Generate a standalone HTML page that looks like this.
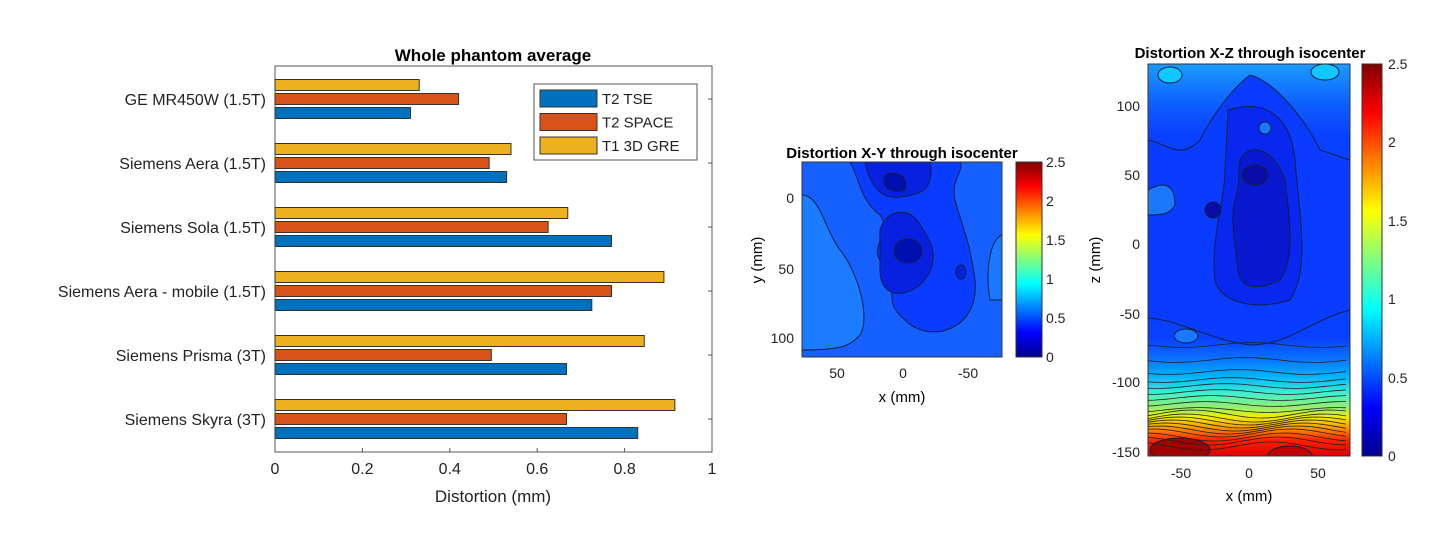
<!DOCTYPE html>
<html><head><meta charset="utf-8"><style>
body{margin:0;background:#fff;width:1436px;height:536px;overflow:hidden;font-family:"Liberation Sans",Arial,sans-serif}
svg text{font-family:"Liberation Sans",Arial,sans-serif}
</style></head><body>
<svg id="fig" width="1436" height="536" viewBox="0 0 1436 536">
<defs>
<linearGradient id="jet" x1="0" y1="1" x2="0" y2="0">
<stop offset="0" stop-color="#00008f"/><stop offset="0.125" stop-color="#0000ff"/><stop offset="0.375" stop-color="#00ffff"/><stop offset="0.625" stop-color="#ffff00"/><stop offset="0.875" stop-color="#ff0000"/><stop offset="1" stop-color="#800000"/>
</linearGradient>
<linearGradient id="xzbg" x1="0" y1="0" x2="0" y2="1">
<stop offset="0" stop-color="#1a9cff"/><stop offset="0.1" stop-color="#0f60ff"/><stop offset="0.18" stop-color="#0a40ff"/><stop offset="0.7" stop-color="#0a40ff"/><stop offset="0.75" stop-color="#0a70ff"/><stop offset="0.8" stop-color="#00b8ff"/><stop offset="0.84" stop-color="#40f0d0"/><stop offset="0.88" stop-color="#a0f060"/><stop offset="0.9" stop-color="#f0f000"/><stop offset="0.93" stop-color="#ff9000"/><stop offset="0.96" stop-color="#ff2000"/><stop offset="1" stop-color="#e00000"/>
</linearGradient>
<filter id="bl"><feGaussianBlur stdDeviation="4"/></filter>
<clipPath id="cxy"><rect x="802" y="162" width="200" height="195"/></clipPath>
<clipPath id="cxz"><rect x="1148" y="64" width="202" height="392"/></clipPath>
</defs>
<g id="bars"></g>

<!-- X-Y contour -->
<g>
<text x="902" y="158" font-size="15" font-weight="bold" text-anchor="middle">Distortion X-Y through isocenter</text>
<g clip-path="url(#cxy)">
<rect x="802" y="162" width="200" height="195" fill="#1560ff"/>
<path d="M850,162 C860,180 860,200 880,215 C895,235 860,250 890,270 C900,285 880,300 905,320 C930,345 980,330 975,280 C970,240 960,220 955,200 C950,180 965,170 960,162Z" fill="#0a3cff" stroke="#102040" stroke-width="1"/>
<path d="M865,162 C870,185 880,200 900,197 C920,195 935,190 930,162Z" fill="#0820e0" stroke="#102040"/>
<path d="M885,175 C895,170 910,175 905,190 C890,195 880,185 885,175Z" fill="#0010b0" stroke="#102040"/>
<path d="M880,230 C885,210 910,205 920,225 C935,245 940,265 920,285 C900,300 880,295 880,270Z" fill="#0820e0" stroke="#102040"/>
<ellipse cx="908" cy="251" rx="14" ry="12" fill="#0010b0" stroke="#102040"/>
<ellipse cx="961" cy="272" rx="5" ry="7" fill="#0820e0" stroke="#102040"/>
<path d="M1002,235 C990,240 985,270 990,300 L1002,300Z" fill="#1a78ff" stroke="#102040"/>
<path d="M802,195 C820,195 825,230 840,250 C860,275 870,320 860,335 C850,345 845,350 802,350Z" fill="#1a7cff" stroke="#102040"/>
</g>
<rect x="802" y="162" width="200" height="195" fill="none" stroke="#333"/>
<g font-size="14" fill="#222">
<text x="837" y="378" text-anchor="middle">50</text><text x="903" y="378" text-anchor="middle">0</text><text x="968" y="378" text-anchor="middle">-50</text>
<text x="794" y="203" text-anchor="end">0</text><text x="794" y="274" text-anchor="end">50</text><text x="794" y="343" text-anchor="end">100</text>
</g>
<text x="902" y="402" font-size="15" text-anchor="middle">x (mm)</text>
<text transform="translate(762,260) rotate(-90)" font-size="15" text-anchor="middle">y (mm)</text>
<rect x="1016" y="162" width="26" height="195" fill="url(#jet)" stroke="#333"/>
<g font-size="14" fill="#222">
<text x="1046" y="167">2.5</text><text x="1046" y="206">2</text><text x="1046" y="245">1.5</text><text x="1046" y="284">1</text><text x="1046" y="323">0.5</text><text x="1046" y="362">0</text>
</g>
</g>

<!-- X-Z contour -->
<g>
<text x="1250" y="58" font-size="15" font-weight="bold" text-anchor="middle">Distortion X-Z through isocenter</text>
<g clip-path="url(#cxz)">
<rect x="1148" y="64" width="202" height="392" fill="url(#xzbg)"/>
<path d="M1148,140 C1170,145 1180,160 1200,140 C1210,120 1230,90 1250,75 C1270,80 1300,110 1320,150 L1350,160 L1350,310 C1310,320 1290,345 1250,345 C1210,340 1180,320 1148,318Z" fill="#0a3cff" stroke="#102040"/>
<path d="M1148,190 C1165,180 1175,185 1175,205 C1170,215 1160,215 1148,215Z" fill="#1a78ff" stroke="#102040"/>
<path d="M1228,110 C1260,100 1290,110 1295,160 C1300,220 1310,270 1290,300 C1260,310 1220,305 1215,280 C1210,240 1225,200 1225,170Z" fill="#0828f0" stroke="#102040"/>
<path d="M1240,160 C1250,140 1275,150 1285,180 C1290,220 1295,260 1280,280 C1260,290 1240,290 1238,270 C1235,240 1230,220 1235,200 C1240,185 1238,175 1240,160Z" fill="#0a18d0" stroke="#102040"/>
<ellipse cx="1255" cy="175" rx="13" ry="10" fill="#0a0ca8" stroke="#102040"/>
<ellipse cx="1213" cy="210" rx="8" ry="8" fill="#0a0ca8" stroke="#102040"/>
<ellipse cx="1265" cy="128" rx="6" ry="6" fill="#1a78ff" stroke="#102040"/>
<ellipse cx="1170" cy="75" rx="12" ry="8" fill="#10c8ff" stroke="#102040"/>
<ellipse cx="1325" cy="72" rx="14" ry="8" fill="#10c8ff" stroke="#102040"/>
<ellipse cx="1186" cy="336" rx="12" ry="7" fill="#1a78ff" stroke="#102040"/>
<ellipse cx="1180" cy="450" rx="30" ry="12" fill="#a00000" stroke="#102040"/>
<ellipse cx="1290" cy="456" rx="22" ry="10" fill="#c00000" stroke="#102040"/>
</g>
<g id="xzlines" clip-path="url(#cxz)" fill="none" stroke="#222" stroke-width="0.8"></g>
<rect x="1148" y="64" width="202" height="392" fill="none" stroke="#333"/>
<g font-size="14" fill="#222">
<text x="1181" y="478" text-anchor="middle">-50</text><text x="1249" y="478" text-anchor="middle">0</text><text x="1318" y="478" text-anchor="middle">50</text>
<text x="1140" y="111" text-anchor="end">100</text><text x="1140" y="180" text-anchor="end">50</text><text x="1140" y="249" text-anchor="end">0</text><text x="1140" y="319" text-anchor="end">-50</text><text x="1140" y="387" text-anchor="end">-100</text><text x="1140" y="457" text-anchor="end">-150</text>
</g>
<text x="1249" y="501" font-size="15" text-anchor="middle">x (mm)</text>
<text transform="translate(1100,260) rotate(-90)" font-size="15" text-anchor="middle">z (mm)</text>
<rect x="1362" y="64" width="20" height="392" fill="url(#jet)" stroke="#333"/>
<g font-size="14" fill="#222">
<text x="1388" y="69">2.5</text><text x="1388" y="147">2</text><text x="1388" y="226">1.5</text><text x="1388" y="304">1</text><text x="1388" y="383">0.5</text><text x="1388" y="461">0</text>
</g>
</g>
</svg>
<script>
const categories=["GE MR450W (1.5T)","Siemens Aera (1.5T)","Siemens Sola (1.5T)","Siemens Aera - mobile (1.5T)","Siemens Prisma (3T)","Siemens Skyra (3T)"];
const t2tse=[0.31,0.53,0.77,0.725,0.667,0.83];
const t2space=[0.42,0.49,0.625,0.77,0.495,0.667];
const t1gre=[0.33,0.54,0.67,0.89,0.845,0.915];
const xticks=[0,0.2,0.4,0.6,0.8,1];
const seriesNames=["T2 TSE","T2 SPACE","T1 3D GRE"];
const NS="http://www.w3.org/2000/svg";
const g=document.getElementById('bars');
const L=275,R=712,T=66,B=452;
const xs=v=>L+v*(R-L);
const yc=i=>T+33+i*64;
function mk(tag,a,parent){const e=document.createElementNS(NS,tag);for(const k in a)e.setAttribute(k,a[k]);(parent||g).appendChild(e);return e;}
const ttl=mk('text',{x:493,y:61,'font-size':17,'font-weight':'bold','text-anchor':'middle'});ttl.textContent='Whole phantom average';


const box=mk('rect',{x:L,y:T,width:R-L,height:B-T,fill:'none',stroke:'#555'});


const series=[[t1gre,'#edb120',-14],[t2space,'#d95319',0],[t2tse,'#0072bd',14]];
categories.forEach((c,i)=>{
  const lab=mk('text',{x:266,y:yc(i)+6,'font-size':16,'text-anchor':'end',fill:'#222'});lab.textContent=c;
  
  
  mk('line',{x1:R,x2:R-4,y1:yc(i),y2:yc(i),stroke:'#555'});
  series.forEach(s=>{
    const r=mk('rect',{x:L,y:yc(i)+s[2]-5.5,width:xs(s[0][i])-L,height:11,fill:s[1],stroke:'#333','stroke-width':1});
    
    
  });
});
xticks.forEach(t=>{
  mk('line',{x1:xs(t),x2:xs(t),y1:B,y2:B-4,stroke:'#555'});
  const tx=mk('text',{x:xs(t),y:B+22,'font-size':16,'text-anchor':'middle',fill:'#222'});tx.textContent=t;
  
  
});
const xt=mk('text',{x:493,y:502,'font-size':17,'text-anchor':'middle',fill:'#222'});xt.textContent='Distortion (mm)';


const lg=mk('g',{});


mk('rect',{x:534,y:84,width:163,height:76,fill:'#fff',stroke:'#555'},lg);
seriesNames.forEach((n,k)=>{
  const col=['#0072bd','#d95319','#edb120'][k];
  mk('rect',{x:540,y:90+k*23.5,width:57,height:17,fill:col,stroke:'#333'},lg);
  const t=mk('text',{x:602,y:104+k*23.5,'font-size':15,fill:'#222'},lg);t.textContent=n;
  
  
});
// decorative contour lines for X-Z bottom band
const zl=document.getElementById('xzlines');
const lineYs=[345,360,372,380,386,392,398,404,410,414,418,421,424,427,430,433,437,441,446];
lineYs.forEach((y,k)=>{
  let d='';
  for(let x=1148;x<=1350;x+=6){const yy=y+4*Math.sin((x-1148)/22+k*0.3)*(k>8?1:0.6);d+=(d?'L':'M')+x+','+yy.toFixed(1);}
  const p=document.createElementNS(NS,'path');p.setAttribute('d',d);zl.appendChild(p);
});
</script>
</body></html>
